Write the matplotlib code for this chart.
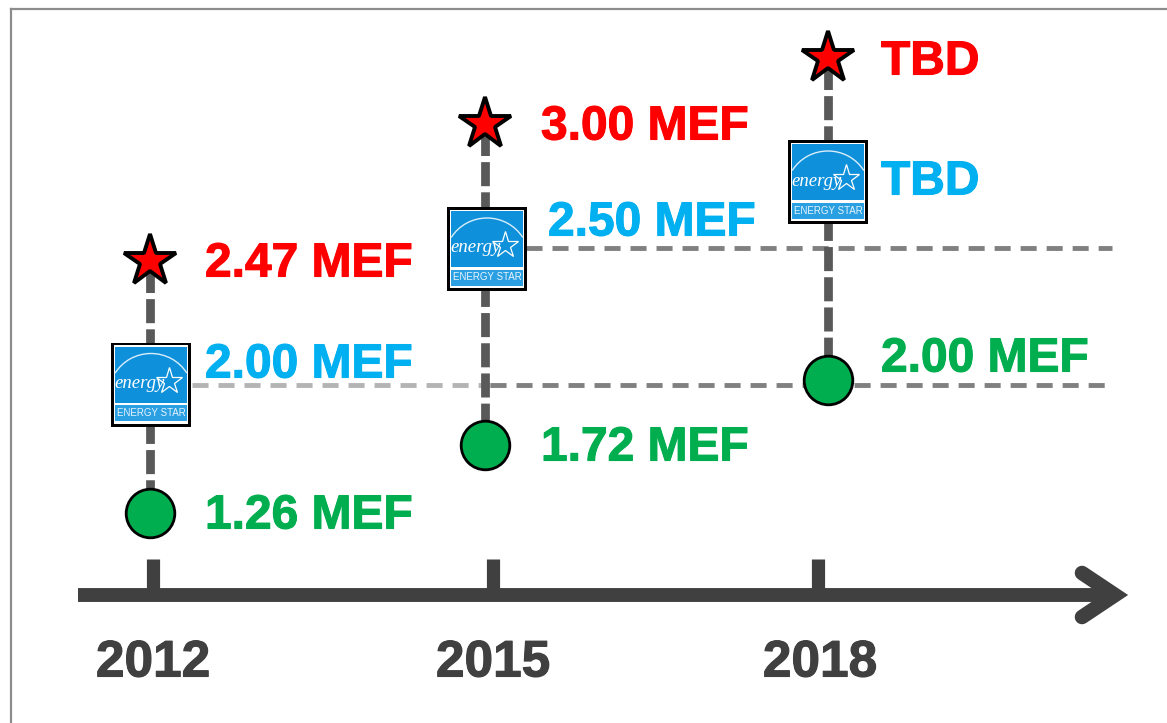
import matplotlib
matplotlib.use("Agg")
import matplotlib.patheffects as pe
import matplotlib.pyplot as plt
from matplotlib.patches import Arc, Rectangle

# Timeline content
years = ["2012", "2015", "2018"]
base_labels = ["1.26 MEF", "1.72 MEF", "2.00 MEF"]
energy_star_labels = ["2.00 MEF", "2.50 MEF", "TBD"]
best_labels = ["2.47 MEF", "3.00 MEF", "TBD"]

# Schematic layout in image pixels, the picture has no value axis
col_x = [150, 485, 828]
tick_x = [153, 493, 818]
year_x = [153, 493, 820]
base_y = [513, 445, 380]
logo_x = [151, 487, 828]
logo_y = [384.5, 249, 182]
best_y = [261, 124, 58]

label_x = [205, 541, 881]
base_label_y = [516, 448, 359]
es_label_x = [205, 548, 881]
es_label_y = [365, 223, 182]
best_label_y = [264, 127, 62]

DARK = "#404040"
LINE = "#595959"
RED = "#ff0000"
BLUE = "#00b0f0"
GREEN = "#00ae4f"
LOGO = "#0f90da"
FONT = ["Liberation Sans", "DejaVu Sans"]


def label(ax, x, y, text, color, size=34.5):
    ax.text(x, y, text, color=color, fontsize=size, fontweight="bold", family=FONT,
            ha="left", va="center", zorder=6,
            path_effects=[pe.withStroke(linewidth=0.8, foreground=color)])


def draw_logo(ax, cx, cy):
    w, h = 80, 84
    x0, y0 = cx - w / 2, cy - h / 2
    ax.add_patch(Rectangle((x0, y0), w, h, fc="black", ec="none", zorder=5))
    ax.add_patch(Rectangle((x0 + 2.5, y0 + 2.5), w - 5.5, h - 5.5, fc="white", ec="none", zorder=6))
    # upper field and lower name band
    ax.add_patch(Rectangle((x0 + 4, y0 + 4), w - 8, cy + 18 - (y0 + 4), fc=LOGO, ec="none", zorder=7))
    ax.add_patch(Rectangle((x0 + 4, cy + 20.5), w - 8, 16, fc="#2a9fe2", ec="none", zorder=7))
    ax.text(cx, cy + 28.5, "ENERGY STAR", color="#e8f5fd", fontsize=7.0, family=FONT,
            ha="center", va="center", zorder=9)
    # arc, script word and outlined star
    ax.add_patch(Arc((cx, cy + 10), 84, 82, theta1=211, theta2=329, ec="#d8eefb", lw=1.0, zorder=8))
    ax.text(cx - 11, cy - 1, "energy", color="white", fontsize=13.5, style="italic",
            family=["Liberation Serif"], ha="center", va="center", zorder=9)
    ax.plot([cx + 18], [cy - 4], marker="*", ms=20, mfc="none", mec="white", mew=0.9, zorder=9)


fig = plt.figure(figsize=(11.67, 7.23), dpi=100)
ax = fig.add_axes([0, 0, 1, 1])
ax.set_xlim(0, 1167)
ax.set_ylim(723, 0)
ax.axis("off")

# Outer frame
ax.plot([11, 11], [723, 9], color="#8c8c8c", lw=1.6, zorder=1)
ax.plot([11, 1167], [9, 9], color="#8c8c8c", lw=1.6, zorder=1)

# Horizontal reference lines, the lower one fades towards the left
ref_dash = (3.3, 2.05)
ax.plot([192, 490], [385, 385], color="#b4b4b4", lw=3.5, dashes=ref_dash, zorder=1)
ax.plot([490, 1105], [385, 385], color="#808080", lw=3.5, dashes=ref_dash, zorder=1)
ax.plot([526, 1112], [248, 248], color="#808080", lw=3.5, dashes=ref_dash, zorder=1)

# Time axis
ax.plot([78, 1110], [595, 595], color=DARK, lw=10, solid_capstyle="butt", zorder=3)
ax.plot([1082, 1115, 1082], [573, 595, 617], color=DARK, lw=10.5, solid_capstyle="round",
        solid_joinstyle="miter", zorder=3)

for i, year in enumerate(years):
    ax.plot([tick_x[i], tick_x[i]], [559, 595], color=DARK, lw=9.5, solid_capstyle="butt", zorder=3)
    ax.text(year_x[i], 663, year, color=DARK, fontsize=37, fontweight="bold", family=FONT,
            ha="center", va="center",
            path_effects=[pe.withStroke(linewidth=0.8, foreground=DARK)])

    ax.plot([col_x[i], col_x[i]], [best_y[i], base_y[i]], color=LINE, lw=6.3,
            linestyle=(2.6, (2.75, 0.7)), dash_capstyle="butt", zorder=2)
    ax.plot([col_x[i]], [base_y[i]], marker="o", ms=35, mfc=GREEN, mec="black", mew=2, zorder=5)
    ax.plot([col_x[i]], [best_y[i]], marker="*", ms=39, mfc=RED, mec="black", mew=2.8, zorder=5)
    draw_logo(ax, logo_x[i], logo_y[i])

    label(ax, label_x[i], base_label_y[i], base_labels[i], GREEN)
    label(ax, es_label_x[i], es_label_y[i], energy_star_labels[i], BLUE)
    label(ax, label_x[i], best_label_y[i], best_labels[i], RED)

fig.savefig("out.png", dpi=100)
plt.close()
